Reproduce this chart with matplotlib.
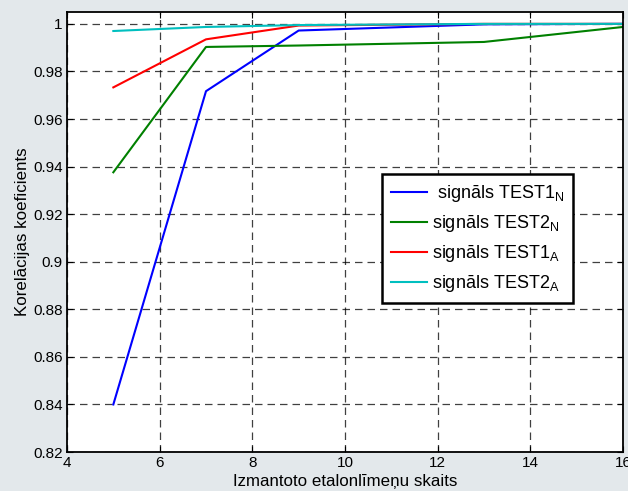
import matplotlib
matplotlib.use("Agg")
import matplotlib.pyplot as plt

plt.rcParams['font.family'] = ['Liberation Sans', 'DejaVu Sans']
plt.rcParams['mathtext.fontset'] = 'custom'
plt.rcParams['mathtext.rm'] = 'Liberation Sans'

x = [5, 7, 9, 13, 16]
test1_n = [0.840, 0.9717, 0.9972, 0.9998, 1.0]
test2_n = [0.9376, 0.9903, 0.9909, 0.9924, 0.9987]
test1_a = [0.9733, 0.9935, 0.9993, 1.0, 1.0]
test2_a = [0.9970, 0.9987, 0.9995, 1.0, 1.0]

labels = [' signāls TEST1$_\\mathregular{N}$', 'signāls TEST2$_\\mathregular{N}$',
          'signāls TEST1$_\\mathregular{A}$', 'signāls TEST2$_\\mathregular{A}$']
colors = ['#0000ff', '#008000', '#ff0000', '#00bfbf']
xticks = [4, 6, 8, 10, 12, 14, 16]
yticks = [0.82, 0.84, 0.86, 0.88, 0.9, 0.92, 0.94, 0.96, 0.98, 1]
ytick_labels = ['0.82', '0.84', '0.86', '0.88', '0.9', '0.92', '0.94', '0.96', '0.98', '1']

fig = plt.figure(figsize=(6.28, 4.91), dpi=100)
fig.patch.set_facecolor('#e3e8eb')
ax = fig.add_axes([0.1067, 0.0794, 0.8853, 0.8962])
ax.set_facecolor('white')

for ys, c, lab in zip([test1_n, test2_n, test1_a, test2_a], colors, labels):
    ax.plot(x, ys, color=c, lw=1.5, label=lab)

ax.set_xlim(4, 16)
ax.set_ylim(0.82, 1.005)
ax.set_xticks(xticks)
ax.set_xticklabels([str(t) for t in xticks])
ax.set_yticks(yticks)
ax.set_yticklabels(ytick_labels)
ax.grid(True, color='black', linestyle=(0, (6, 4)), lw=0.9, alpha=0.75)
ax.tick_params(direction='in', labelsize=11, length=4, colors='black', top=True, right=True, pad=3)
for s in ax.spines.values():
    s.set_linewidth(1.3)

ax.set_xlabel('Izmantoto etalonlīmeņu skaits', fontsize=12.2, labelpad=3)
ax.set_ylabel('Korelācijas koeficients', fontsize=12.2, labelpad=2)

leg = ax.legend(loc='upper left', bbox_to_anchor=(0.567, 0.632), fontsize=13,
                fancybox=False, framealpha=1, edgecolor='black',
                handlelength=2.0, labelspacing=0.5, borderpad=0.5, handletextpad=0.25,
                borderaxespad=0)
leg.get_frame().set_linewidth(1.8)

fig.savefig('out.png', dpi=100, facecolor=fig.get_facecolor())
